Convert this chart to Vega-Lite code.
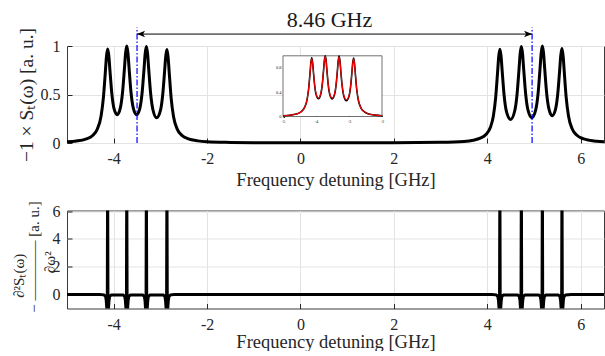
{
  "$schema": "https://vega.github.io/schema/vega-lite/v6.json",
  "background": "white",
  "padding": {"left": 10, "top": 8, "right": 0, "bottom": 0},
  "config": {
    "font": "Liberation Serif",
    "view": {"stroke": "#3a3a3a", "strokeWidth": 1},
    "axis": {
      "labelFont": "Liberation Serif", "titleFont": "Liberation Serif",
      "labelFontSize": 16, "titleFontSize": 18.5, "titleFontWeight": "normal",
      "labelColor": "#262626", "titleColor": "#262626",
      "gridColor": "#e3e3e3", "gridWidth": 1, "domain": false,
      "tickColor": "#262626", "tickSize": -5, "labelFlush": false, "labelOverlap": false
    }
  },
  "datasets": {
    "spectrum": [
      {"x": -5.0, "s": 0.012}, {"x": -4.8, "s": 0.02}, {"x": -4.6, "s": 0.04}, {"x": -4.45, "s": 0.078},
      {"x": -4.35, "s": 0.145}, {"x": -4.27, "s": 0.279}, {"x": -4.22, "s": 0.470}, {"x": -4.18, "s": 0.724},
      {"x": -4.155, "s": 0.891}, {"x": -4.13, "s": 0.969}, {"x": -4.105, "s": 0.902}, {"x": -4.08, "s": 0.745},
      {"x": -4.04, "s": 0.510}, {"x": -3.99, "s": 0.349}, {"x": -3.925, "s": 0.292}, {"x": -3.86, "s": 0.357},
      {"x": -3.81, "s": 0.525}, {"x": -3.77, "s": 0.767}, {"x": -3.745, "s": 0.928}, {"x": -3.72, "s": 1.0},
      {"x": -3.695, "s": 0.928}, {"x": -3.67, "s": 0.768}, {"x": -3.63, "s": 0.526}, {"x": -3.58, "s": 0.359},
      {"x": -3.51, "s": 0.291}, {"x": -3.44, "s": 0.358}, {"x": -3.39, "s": 0.525}, {"x": -3.35, "s": 0.765},
      {"x": -3.325, "s": 0.925}, {"x": -3.30, "s": 0.996}, {"x": -3.275, "s": 0.923}, {"x": -3.25, "s": 0.761},
      {"x": -3.21, "s": 0.516}, {"x": -3.16, "s": 0.343}, {"x": -3.08, "s": 0.260}, {"x": -3.0, "s": 0.333},
      {"x": -2.95, "s": 0.499}, {"x": -2.91, "s": 0.738}, {"x": -2.885, "s": 0.895}, {"x": -2.86, "s": 0.963},
      {"x": -2.835, "s": 0.886}, {"x": -2.81, "s": 0.720}, {"x": -2.77, "s": 0.466}, {"x": -2.72, "s": 0.276},
      {"x": -2.64, "s": 0.143}, {"x": -2.54, "s": 0.079}, {"x": -2.4, "s": 0.042}, {"x": -2.2, "s": 0.022},
      {"x": -2.0, "s": 0.013}, {"x": -1.5, "s": 0.006}, {"x": -1.0, "s": 0.003}, {"x": 0.0, "s": 0.002},
      {"x": 1.0, "s": 0.002}, {"x": 2.0, "s": 0.003}, {"x": 3.0, "s": 0.007}, {"x": 3.5, "s": 0.016},
      {"x": 3.7, "s": 0.029}, {"x": 3.85, "s": 0.05}, {"x": 3.97, "s": 0.087}, {"x": 4.07, "s": 0.165},
      {"x": 4.13, "s": 0.276}, {"x": 4.18, "s": 0.467}, {"x": 4.22, "s": 0.722}, {"x": 4.245, "s": 0.889},
      {"x": 4.27, "s": 0.967}, {"x": 4.295, "s": 0.897}, {"x": 4.32, "s": 0.738}, {"x": 4.36, "s": 0.496},
      {"x": 4.41, "s": 0.326}, {"x": 4.50, "s": 0.242}, {"x": 4.59, "s": 0.335}, {"x": 4.64, "s": 0.512},
      {"x": 4.68, "s": 0.759}, {"x": 4.705, "s": 0.922}, {"x": 4.73, "s": 0.995}, {"x": 4.755, "s": 0.923},
      {"x": 4.78, "s": 0.761}, {"x": 4.82, "s": 0.517}, {"x": 4.87, "s": 0.344}, {"x": 4.955, "s": 0.261},
      {"x": 5.04, "s": 0.346}, {"x": 5.09, "s": 0.519}, {"x": 5.13, "s": 0.765}, {"x": 5.155, "s": 0.927},
      {"x": 5.18, "s": 1.0}, {"x": 5.205, "s": 0.928}, {"x": 5.23, "s": 0.766}, {"x": 5.27, "s": 0.522},
      {"x": 5.32, "s": 0.352}, {"x": 5.39, "s": 0.281}, {"x": 5.46, "s": 0.344}, {"x": 5.51, "s": 0.508},
      {"x": 5.55, "s": 0.747}, {"x": 5.575, "s": 0.905}, {"x": 5.60, "s": 0.973}, {"x": 5.625, "s": 0.895},
      {"x": 5.65, "s": 0.727}, {"x": 5.69, "s": 0.471}, {"x": 5.74, "s": 0.279}, {"x": 5.82, "s": 0.144},
      {"x": 5.92, "s": 0.080}, {"x": 6.05, "s": 0.045}, {"x": 6.2, "s": 0.027}, {"x": 6.35, "s": 0.018},
      {"x": 6.5, "s": 0.012}
    ],
    "inset": [
      {"x": -5.0, "s": 0.012, "r": 0.012}, {"x": -4.8, "s": 0.02, "r": 0.02}, {"x": -4.6, "s": 0.04, "r": 0.04},
      {"x": -4.45, "s": 0.078, "r": 0.078}, {"x": -4.35, "s": 0.145, "r": 0.145}, {"x": -4.27, "s": 0.279, "r": 0.283},
      {"x": -4.22, "s": 0.470, "r": 0.470}, {"x": -4.18, "s": 0.724, "r": 0.720}, {"x": -4.155, "s": 0.891, "r": 0.880},
      {"x": -4.13, "s": 0.969, "r": 0.955}, {"x": -4.105, "s": 0.902, "r": 0.890}, {"x": -4.08, "s": 0.745, "r": 0.745},
      {"x": -4.04, "s": 0.510, "r": 0.515}, {"x": -3.99, "s": 0.349, "r": 0.360}, {"x": -3.925, "s": 0.292, "r": 0.305},
      {"x": -3.86, "s": 0.357, "r": 0.368}, {"x": -3.81, "s": 0.525, "r": 0.530}, {"x": -3.77, "s": 0.767, "r": 0.767},
      {"x": -3.745, "s": 0.928, "r": 0.920}, {"x": -3.72, "s": 1.0, "r": 0.990}, {"x": -3.695, "s": 0.928, "r": 0.920},
      {"x": -3.67, "s": 0.768, "r": 0.768}, {"x": -3.63, "s": 0.526, "r": 0.530}, {"x": -3.58, "s": 0.359, "r": 0.370},
      {"x": -3.51, "s": 0.291, "r": 0.305}, {"x": -3.44, "s": 0.358, "r": 0.368}, {"x": -3.39, "s": 0.525, "r": 0.530},
      {"x": -3.35, "s": 0.765, "r": 0.765}, {"x": -3.325, "s": 0.925, "r": 0.918}, {"x": -3.30, "s": 0.996, "r": 0.985},
      {"x": -3.275, "s": 0.923, "r": 0.915}, {"x": -3.25, "s": 0.761, "r": 0.761}, {"x": -3.21, "s": 0.516, "r": 0.520},
      {"x": -3.16, "s": 0.343, "r": 0.355}, {"x": -3.08, "s": 0.260, "r": 0.275}, {"x": -3.0, "s": 0.333, "r": 0.345},
      {"x": -2.95, "s": 0.499, "r": 0.505}, {"x": -2.91, "s": 0.738, "r": 0.738}, {"x": -2.885, "s": 0.895, "r": 0.887},
      {"x": -2.86, "s": 0.963, "r": 0.952}, {"x": -2.835, "s": 0.886, "r": 0.878}, {"x": -2.81, "s": 0.720, "r": 0.720},
      {"x": -2.77, "s": 0.466, "r": 0.470}, {"x": -2.72, "s": 0.276, "r": 0.282}, {"x": -2.64, "s": 0.143, "r": 0.143},
      {"x": -2.54, "s": 0.079, "r": 0.079}, {"x": -2.4, "s": 0.042, "r": 0.042}, {"x": -2.2, "s": 0.022, "r": 0.022},
      {"x": -2.0, "s": 0.013, "r": 0.013}
    ],
    "insetbox": [{"x0": -5, "x1": -2, "y0": 0, "y1": 1}],
    "markers": [{"f": -3.5}, {"f": 4.96}],
    "span": [{"from": -3.5, "to": 4.96, "label": "8.46 GHz"}],
    "deriv": [
      {"x": -5.0, "d": 0}, {"x": -4.3, "d": 0},
      {"x": -4.21, "d": -0.02}, {"x": -4.175, "d": -0.12}, {"x": -4.16, "d": -0.4}, {"x": -4.148, "d": -1.0}, {"x": -4.138, "d": -1.6},
      {"x": -4.13, "d": 9}, {"x": -4.122, "d": -1.6}, {"x": -4.112, "d": -1.0}, {"x": -4.1, "d": -0.4}, {"x": -4.085, "d": -0.12}, {"x": -4.05, "d": -0.02},
      {"x": -3.8, "d": -0.02}, {"x": -3.765, "d": -0.12}, {"x": -3.75, "d": -0.4}, {"x": -3.738, "d": -1.0}, {"x": -3.728, "d": -1.6},
      {"x": -3.72, "d": 9}, {"x": -3.712, "d": -1.6}, {"x": -3.702, "d": -1.0}, {"x": -3.69, "d": -0.4}, {"x": -3.675, "d": -0.12}, {"x": -3.64, "d": -0.02},
      {"x": -3.38, "d": -0.02}, {"x": -3.345, "d": -0.12}, {"x": -3.33, "d": -0.4}, {"x": -3.318, "d": -1.0}, {"x": -3.308, "d": -1.6},
      {"x": -3.30, "d": 9}, {"x": -3.292, "d": -1.6}, {"x": -3.282, "d": -1.0}, {"x": -3.27, "d": -0.4}, {"x": -3.255, "d": -0.12}, {"x": -3.22, "d": -0.02},
      {"x": -2.94, "d": -0.02}, {"x": -2.905, "d": -0.12}, {"x": -2.89, "d": -0.4}, {"x": -2.878, "d": -1.0}, {"x": -2.868, "d": -1.6},
      {"x": -2.86, "d": 9}, {"x": -2.852, "d": -1.6}, {"x": -2.842, "d": -1.0}, {"x": -2.83, "d": -0.4}, {"x": -2.815, "d": -0.12}, {"x": -2.78, "d": -0.02},
      {"x": -2.7, "d": 0}, {"x": 0.0, "d": 0}, {"x": 4.1, "d": 0},
      {"x": 4.19, "d": -0.02}, {"x": 4.225, "d": -0.12}, {"x": 4.24, "d": -0.4}, {"x": 4.252, "d": -1.0}, {"x": 4.262, "d": -1.6},
      {"x": 4.27, "d": 9}, {"x": 4.278, "d": -1.6}, {"x": 4.288, "d": -1.0}, {"x": 4.30, "d": -0.4}, {"x": 4.315, "d": -0.12}, {"x": 4.35, "d": -0.02},
      {"x": 4.65, "d": -0.02}, {"x": 4.685, "d": -0.12}, {"x": 4.70, "d": -0.4}, {"x": 4.712, "d": -1.0}, {"x": 4.722, "d": -1.6},
      {"x": 4.73, "d": 9}, {"x": 4.738, "d": -1.6}, {"x": 4.748, "d": -1.0}, {"x": 4.76, "d": -0.4}, {"x": 4.775, "d": -0.12}, {"x": 4.81, "d": -0.02},
      {"x": 5.10, "d": -0.02}, {"x": 5.135, "d": -0.12}, {"x": 5.15, "d": -0.4}, {"x": 5.162, "d": -1.0}, {"x": 5.172, "d": -1.6},
      {"x": 5.18, "d": 9}, {"x": 5.188, "d": -1.6}, {"x": 5.198, "d": -1.0}, {"x": 5.21, "d": -0.4}, {"x": 5.225, "d": -0.12}, {"x": 5.26, "d": -0.02},
      {"x": 5.52, "d": -0.02}, {"x": 5.555, "d": -0.12}, {"x": 5.57, "d": -0.4}, {"x": 5.582, "d": -1.0}, {"x": 5.592, "d": -1.6},
      {"x": 5.60, "d": 9}, {"x": 5.608, "d": -1.6}, {"x": 5.618, "d": -1.0}, {"x": 5.63, "d": -0.4}, {"x": 5.645, "d": -0.12}, {"x": 5.68, "d": -0.02},
      {"x": 5.8, "d": 0}, {"x": 6.5, "d": 0}
    ]
  },
  "vconcat": [
    {
      "width": 537,
      "height": 97,
      "layer": [
        {
          "layer": [
            {
              "data": {"name": "spectrum"},
              "mark": {"type": "line", "color": "black", "strokeWidth": 3, "interpolate": "monotone"},
              "encoding": {
                "x": {"field": "x", "type": "quantitative",
                  "scale": {"domain": [-5, 6.5], "nice": false, "zero": false},
                  "axis": {"values": [-4, -2, 0, 2, 4, 6], "title": "Frequency detuning [GHz]",
                    "labelExpr": "datum.value < 0 ? '-' + format(-datum.value, '~g') : format(datum.value, '~g')",
                    "labelBaseline": "middle", "labelPadding": 20.5, "titleY": 42, "titleBaseline": "alphabetic"}},
                "y": {"field": "s", "type": "quantitative",
                  "scale": {"domain": [0, 1], "nice": false, "zero": false},
                  "axis": {"values": [0, 0.5, 1], "format": "~g", "labelPadding": 12,
                    "title": "−1 × Sₜ(ω) [a. u.]", "titleX": -41, "titleY": 48.5, "titleAngle": -90,
                    "titleAlign": "center", "titleBaseline": "middle", "titleFontSize": 19.5}}
              }
            },
            {
              "data": {"name": "markers"},
              "mark": {"type": "rule", "color": "#0000ff", "strokeWidth": 1.2, "strokeDash": [6, 2, 1.5, 2]},
              "encoding": {
                "x": {"field": "f", "type": "quantitative"},
                "y": {"datum": 0},
                "y2": {"datum": 1.19}
              }
            },
            {
              "data": {"name": "span"},
              "mark": {"type": "rule", "color": "black", "strokeWidth": 1},
              "encoding": {
                "x": {"field": "from", "type": "quantitative"},
                "x2": {"field": "to"},
                "y": {"datum": 1.123}
              }
            },
            {
              "data": {"name": "span"},
              "mark": {"type": "point", "shape": "M0,0L2,-0.8L1.5,0L2,0.8Z", "filled": true, "color": "black", "size": 64, "opacity": 1},
              "encoding": {
                "x": {"field": "from", "type": "quantitative"},
                "y": {"datum": 1.123}
              }
            },
            {
              "data": {"name": "span"},
              "mark": {"type": "point", "shape": "M0,0L-2,-0.8L-1.5,0L-2,0.8Z", "filled": true, "color": "black", "size": 64, "opacity": 1},
              "encoding": {
                "x": {"field": "to", "type": "quantitative"},
                "y": {"datum": 1.123}
              }
            },
            {
              "data": {"name": "span"},
              "mark": {"type": "text", "fontSize": 22, "font": "Liberation Serif", "color": "#1a1a1a", "baseline": "alphabetic", "align": "center"},
              "encoding": {
                "x": {"datum": 0.62},
                "y": {"datum": 1.2},
                "text": {"field": "label"}
              }
            }
          ]
        },
        {
          "layer": [
            {
              "data": {"name": "insetbox"},
              "mark": {"type": "rect", "fill": "white", "stroke": "#333333", "strokeWidth": 0.7},
              "encoding": {
                "x": {"field": "x0", "type": "quantitative",
                  "scale": {"domain": [-5, -2], "range": [216, 315], "nice": false, "zero": false},
                  "axis": {"orient": "bottom", "offset": -26.5, "values": [-5, -4, -3, -2], "grid": false, "title": null,
                    "labelExpr": "datum.value < 0 ? '-' + format(-datum.value, '~g') : format(datum.value, '~g')",
                    "labelFontSize": 4.5, "tickSize": -1.5, "labelPadding": 3.5, "labelBaseline": "top"}},
                "x2": {"field": "x1"},
                "y": {"field": "y0", "type": "quantitative",
                  "scale": {"domain": [0, 1], "range": [70.5, 9.8], "nice": false, "zero": false},
                  "axis": {"orient": "left", "offset": -216, "values": [0, 0.2, 0.4, 0.6, 0.8, 1], "format": "~g", "grid": false, "title": null,
                    "labelFontSize": 4.5, "tickSize": -1.5, "labelPadding": 3.5}},
                "y2": {"field": "y1"}
              }
            },
            {
              "data": {"name": "inset"},
              "mark": {"type": "line", "color": "black", "strokeWidth": 1.6, "interpolate": "monotone"},
              "encoding": {
                "x": {"field": "x", "type": "quantitative", "scale": {"domain": [-5, -2], "range": [216, 315], "nice": false, "zero": false}},
                "y": {"field": "s", "type": "quantitative", "scale": {"domain": [0, 1], "range": [70.5, 9.8], "nice": false, "zero": false}}
              }
            },
            {
              "data": {"name": "inset"},
              "mark": {"type": "line", "color": "#ff0000", "strokeWidth": 1.1, "interpolate": "monotone"},
              "encoding": {
                "x": {"field": "x", "type": "quantitative", "scale": {"domain": [-5, -2], "range": [216, 315], "nice": false, "zero": false}},
                "y": {"field": "r", "type": "quantitative", "scale": {"domain": [0, 1], "range": [70.5, 9.8], "nice": false, "zero": false}}
              }
            }
          ]
        }
      ],
      "resolve": {"scale": {"x": "independent", "y": "independent"}, "axis": {"x": "independent", "y": "independent"}}
    },
    {
      "width": 537,
      "height": 98,
      "data": {"name": "deriv"},
      "mark": {"type": "line", "color": "black", "strokeWidth": 3, "clip": true},
      "encoding": {
        "x": {"field": "x", "type": "quantitative",
          "scale": {"domain": [-5, 6.5], "nice": false, "zero": false},
          "axis": {"values": [-4, -2, 0, 2, 4, 6], "title": "Frequency detuning [GHz]",
            "labelExpr": "datum.value < 0 ? '-' + format(-datum.value, '~g') : format(datum.value, '~g')",
            "labelBaseline": "middle", "labelPadding": 20.5, "titleY": 38.5, "titleBaseline": "alphabetic"}},
        "y": {"field": "d", "type": "quantitative",
          "scale": {"domain": [-1, 6.05], "nice": false, "zero": false},
          "axis": {"values": [0, 2, 4, 6], "format": "~g", "labelPadding": 12,
            "title": ["∂²Sₜ(ω)\u2003\u2003\u2002\u200B", "− ———— [a. u.]", "∂ω²\u2002\u2009\u200B"],
            "titleX": -49, "titleY": 46, "titleAngle": -90, "titleLineHeight": 15.5,
            "titleAlign": "center", "titleBaseline": "middle", "titleFontSize": 15}}
      }
    }
  ],
  "spacing": 67.5,
  "bounds": "flush"
}
